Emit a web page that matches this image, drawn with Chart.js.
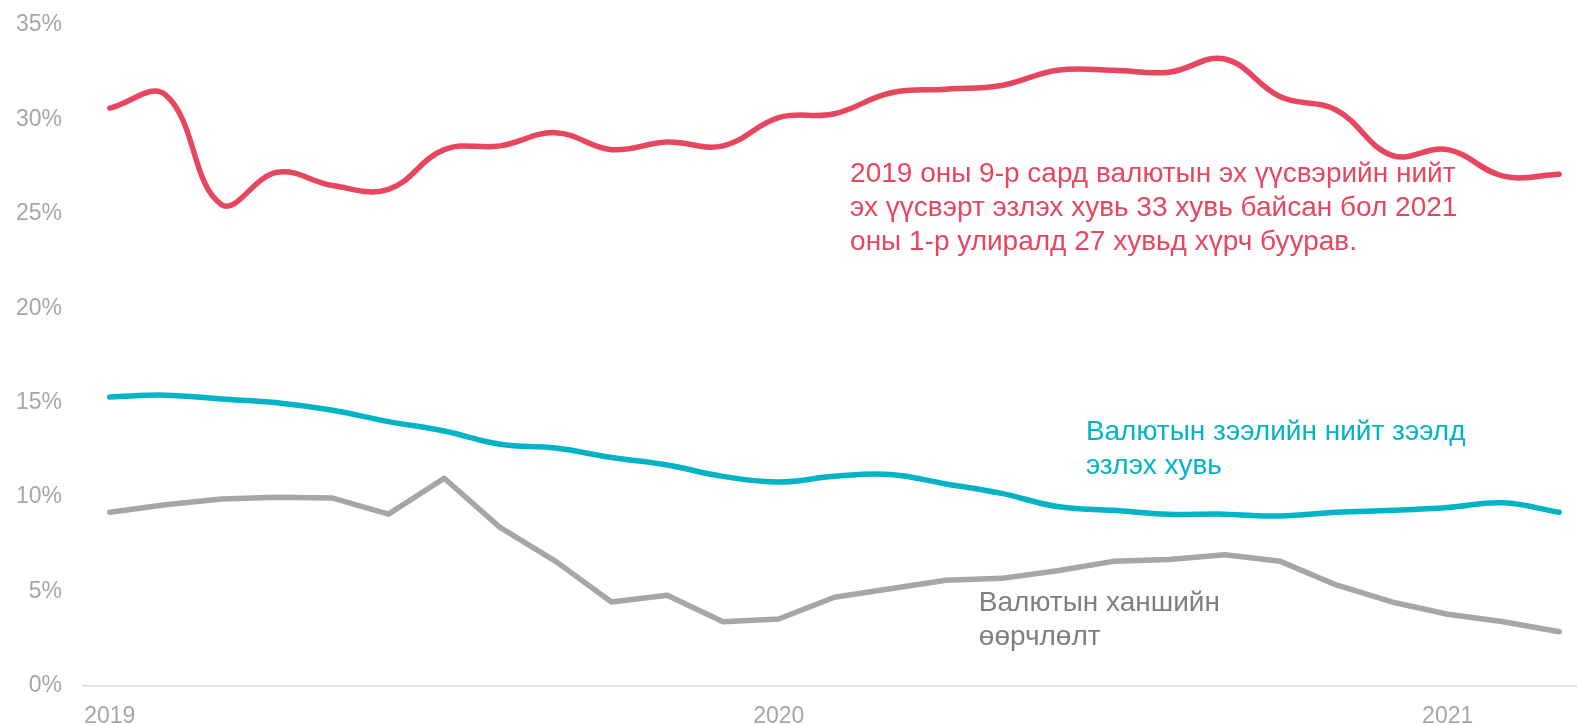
<!DOCTYPE html>
<html>
<head>
<meta charset="utf-8">
<script src="https://cdn.jsdelivr.net/npm/chart.js@4"></script>
<style>
  html, body { margin: 0; padding: 0; background: #ffffff; }
  #wrap { width: 1577px; height: 725px; position: relative; }
</style>
</head>
<body>
<div id="wrap"><canvas id="fxChart"></canvas></div>
<script>
// monthly, Jan 2019 .. Mar 2021
const months = [
  "2019-01","2019-02","2019-03","2019-04","2019-05","2019-06","2019-07","2019-08","2019-09",
  "2019-10","2019-11","2019-12","2020-01","2020-02","2020-03","2020-04","2020-05","2020-06",
  "2020-07","2020-08","2020-09","2020-10","2020-11","2020-12","2021-01","2021-02","2021-03"
];
const yearLabels = ["2019", "2020", "2021"];
const yearIdx = [0, 12, 24];
const yTicks = [0, 5, 10, 15, 20, 25, 30, 35];

// валютын эх үүсвэрийн нийт эх үүсвэрт эзлэх хувь
const fxFunding = [30.6, 31.3, 25.5, 27.2, 26.5, 26.3, 28.4, 28.6, 29.3, 28.4, 28.8, 28.6, 30.1, 30.3,
  31.4, 31.6, 31.8, 32.6, 32.6, 32.5, 33.2, 31.2, 30.5, 28.1, 28.4, 27.0, 27.1];
// валютын зээлийн нийт зээлд эзлэх хувь
const fxLoans = [15.3, 15.4, 15.2, 15.0, 14.6, 14.0, 13.5, 12.8, 12.6, 12.1, 11.7, 11.1, 10.8, 11.1,
  11.2, 10.7, 10.2, 9.5, 9.3, 9.1, 9.1, 9.0, 9.2, 9.3, 9.45, 9.7, 9.2];
// валютын ханшийн өөрчлөлт
const fxRate = [9.2, 9.6, 9.9, 10.0, 9.95, 9.1, 11.0, 8.4, 6.6, 4.45, 4.8, 3.4, 3.55, 4.7,
  5.15, 5.6, 5.7, 6.1, 6.6, 6.7, 6.95, 6.6, 5.35, 4.45, 3.8, 3.4, 2.87];

const noteFunding = ["2019 оны 9-р сард валютын эх үүсвэрийн нийт", "эх үүсвэрт эзлэх хувь 33 хувь байсан бол 2021", "оны 1-р улиралд 27 хувьд хүрч буурав."];
const noteLoans = ["Валютын зээлийн нийт зээлд", "эзлэх хувь"];
const noteRate = ["Валютын ханшийн", "өөрчлөлт"];

const toPoints = arr => arr.map((v, i) => ({ x: i, y: v }));
const fontFamily = "'Liberation Sans', Arial, sans-serif";

const notesPlugin = {
  id: "notes",
  afterDatasetsDraw(chart, args, opts) {
    const ctx = chart.ctx;
    const xs = chart.scales.x, ys = chart.scales.y;
    ctx.save();
    ctx.font = opts.size + "px " + fontFamily;
    ctx.textAlign = "left";
    ctx.textBaseline = "middle";
    opts.items.forEach(n => {
      const px = xs.getPixelForValue(n.x);
      const py = ys.getPixelForValue(n.y);
      ctx.fillStyle = n.color;
      n.lines.forEach((t, k) => ctx.fillText(t, px, py + k * opts.lineGap));
    });
    ctx.restore();
  }
};

const ctx = document.getElementById("fxChart").getContext("2d");
new Chart(ctx, {
  type: "line",
  data: {
    datasets: [
      {
        label: "Валютын эх үүсвэр",
        data: toPoints(fxFunding),
        borderColor: "#e8455f",
        borderWidth: 5.5,
        tension: 0.4,
        pointRadius: 0,
        borderCapStyle: "round",
        borderJoinStyle: "round"
      },
      {
        label: "Валютын зээл",
        data: toPoints(fxLoans),
        borderColor: "#00b4c5",
        borderWidth: 5.5,
        tension: 0.4,
        pointRadius: 0,
        borderCapStyle: "round",
        borderJoinStyle: "round"
      },
      {
        label: "Валютын ханш",
        data: toPoints(fxRate),
        borderColor: "#a6a6a6",
        borderWidth: 5.5,
        tension: 0,
        pointRadius: 0,
        borderCapStyle: "round",
        borderJoinStyle: "round"
      }
    ]
  },
  options: {
    responsive: true,
    maintainAspectRatio: false,
    animation: false,
    layout: { padding: { left: 16, top: 0, right: 0, bottom: 0 } },
    scales: {
      x: {
        type: "linear",
        min: -0.48,
        max: 26.32,
        grid: { display: false, drawTicks: false },
        border: { display: true, color: "#d9d9d9", width: 1.5 },
        afterBuildTicks: scale => { scale.ticks = yearIdx.map(v => ({ value: v })); },
        afterFit: scale => { scale.height = 39; },
        ticks: {
          autoSkip: false,
          maxRotation: 0,
          padding: 17,
          color: "#a6a6a6",
          font: { family: fontFamily, size: 23 },
          callback: v => yearLabels[yearIdx.indexOf(v)]
        }
      },
      y: {
        min: 0,
        max: 35,
        grid: { display: false, drawTicks: false },
        border: { display: false },
        afterBuildTicks: scale => { scale.ticks = yTicks.map(v => ({ value: v })); },
        afterFit: scale => { scale.width = 67; scale.paddingTop = 25; },
        ticks: {
          padding: 21,
          color: "#a6a6a6",
          font: { family: fontFamily, size: 23 },
          callback: v => v + "%"
        }
      }
    },
    plugins: {
      legend: { display: false },
      tooltip: { enabled: false },
      notes: {
        size: 28,
        lineGap: 34,
        items: [
          { lines: noteFunding, color: "#e8455f", x: 13.28, y: 27.1 },
          { lines: noteLoans, color: "#00b4c5", x: 17.51, y: 13.45 },
          { lines: noteRate, color: "#7f7f7f", x: 15.59, y: 4.4 }
        ]
      }
    }
  },
  plugins: [notesPlugin]
});
</script>
</body>
</html>
